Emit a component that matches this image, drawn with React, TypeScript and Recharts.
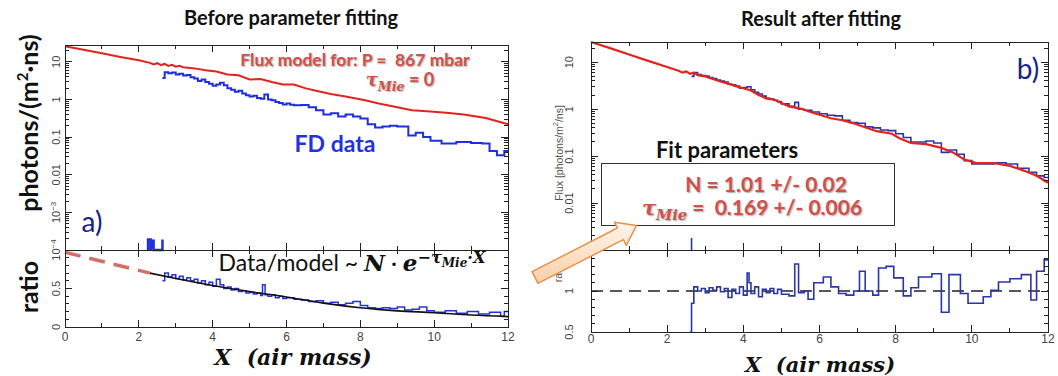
import React from 'react';
import { ComposedChart, Line, XAxis, YAxis, ReferenceLine } from 'recharts';

// ---- panel a) before fitting ----
const modelBeforeX = [0, 0.5, 1, 1.5, 2, 2.3, 2.4, 2.5, 2.6, 2.7, 2.8, 2.9, 3.0, 3.1, 3.2, 3.4, 3.6, 3.8, 4.1, 4.4, 4.7, 5.0, 5.3, 5.6, 5.9, 6.2, 6.5, 6.8, 7.2, 7.6, 8.1, 8.5, 9.0, 9.4, 9.9, 10.4, 10.8, 11.4, 12];
const modelBeforeFlux = [26, 21, 17, 13.5, 11, 9.4, 8.5, 9.2, 8.2, 8.8, 7.8, 8.3, 7.4, 7.8, 7.2, 6.9, 6.5, 6.0, 5.5, 4.6, 4.4, 3.4, 3.5, 2.9, 2.5, 2.5, 2.0, 1.7, 1.4, 1.2, 0.97, 0.78, 0.62, 0.52, 0.48, 0.44, 0.40, 0.32, 0.22];

const fdBeforeX = [2.64, 2.7, 2.8, 2.9, 3.0, 3.1, 3.2, 3.3, 3.4, 3.5, 3.6, 3.7, 3.8, 3.9, 4.0, 4.1, 4.2, 4.3, 4.4, 4.5, 4.6, 4.7, 4.8, 4.9, 5.0, 5.1, 5.2, 5.3, 5.4, 5.5, 5.6, 5.7, 5.8, 5.9, 6.0, 6.1, 6.2, 6.4, 6.6, 6.8, 7.0, 7.2, 7.4, 7.6, 7.8, 8.0, 8.2, 8.4, 8.6, 8.8, 9.0, 9.3, 9.5, 9.7, 9.9, 10.2, 10.6, 11.0, 11.3, 11.5, 11.7, 11.9, 12];
const fdBeforeFlux = [3.7, 5.3, 5.0, 5.2, 4.6, 4.8, 4.3, 4.5, 3.9, 3.6, 3.1, 3.4, 2.9, 2.6, 2.3, 2.5, 2.8, 2.4, 2.0, 1.8, 1.6, 1.7, 1.45, 1.3, 1.2, 1.25, 1.1, 1.05, 1.35, 1.0, 0.95, 0.85, 0.8, 0.74, 0.78, 0.72, 0.70, 0.71, 0.62, 0.52, 0.40, 0.43, 0.35, 0.40, 0.35, 0.31, 0.22, 0.18, 0.19, 0.20, 0.19, 0.11, 0.13, 0.10, 0.08, 0.068, 0.074, 0.070, 0.068, 0.043, 0.033, 0.043, 0.043];
// near-empty early bins sitting on the bottom edge
const fdLowBeforeX = [2.25, 2.25, 2.32, 2.32, 2.4, 2.4, 2.64, 2.64];
const fdLowBeforeFlux = [1e-4, 1.9e-4, 1.9e-4, 1e-4, 1.9e-4, 1e-4, 1e-4, 1.9e-4];

const ratioBeforeX = [2.64, 2.7, 2.8, 2.9, 3.0, 3.1, 3.2, 3.3, 3.4, 3.5, 3.6, 3.7, 3.8, 3.9, 4.0, 4.1, 4.2, 4.3, 4.4, 4.5, 4.6, 4.7, 4.8, 4.9, 5.0, 5.1, 5.2, 5.3, 5.35, 5.42, 5.5, 5.6, 5.7, 5.8, 5.9, 6.0, 6.2, 6.4, 6.6, 6.8, 7.0, 7.2, 7.4, 7.6, 7.8, 8.0, 8.2, 8.4, 8.6, 8.8, 9.0, 9.2, 9.4, 9.6, 9.8, 10.0, 10.3, 10.6, 10.9, 11.2, 11.5, 11.8, 11.9, 12];
const ratioBeforeVal = [0.60, 0.70, 0.65, 0.68, 0.63, 0.66, 0.61, 0.64, 0.60, 0.62, 0.57, 0.60, 0.55, 0.58, 0.53, 0.62, 0.55, 0.50, 0.52, 0.48, 0.50, 0.46, 0.47, 0.44, 0.45, 0.43, 0.44, 0.41, 0.55, 0.42, 0.40, 0.42, 0.38, 0.40, 0.37, 0.38, 0.36, 0.35, 0.33, 0.34, 0.31, 0.32, 0.29, 0.31, 0.33, 0.28, 0.25, 0.24, 0.25, 0.24, 0.26, 0.22, 0.23, 0.26, 0.21, 0.19, 0.21, 0.18, 0.20, 0.17, 0.19, 0.14, 0.20, 0.20];

const ratioFitX = [2.3, 3, 4, 5, 6, 7, 8, 9, 10, 11, 12];
const ratioFitVal = [0.70, 0.63, 0.54, 0.46, 0.39, 0.31, 0.25, 0.21, 0.186, 0.155, 0.135];
const ratioExtrapX = [0, 2.3];
const ratioExtrapVal = [0.97, 0.70];

// ---- panel b) after fitting ----
const fitAfterX = [0, 0.5, 1, 1.5, 2, 2.3, 2.4, 2.5, 2.6, 2.7, 2.8, 3.0, 3.2, 3.4, 3.6, 3.8, 4.0, 4.2, 4.4, 4.6, 4.8, 5.0, 5.2, 5.5, 5.8, 6.0, 6.3, 6.6, 6.9, 7.1, 7.5, 7.9, 8.1, 8.4, 8.8, 9.2, 9.5, 9.8, 10.1, 10.6, 11.0, 11.4, 11.7, 12];
const fitAfterFlux = [27, 20, 14.6, 10.7, 7.9, 6.6, 6.0, 6.4, 5.7, 6.0, 5.3, 5.0, 4.4, 3.9, 3.5, 3.1, 2.8, 2.5, 2.0, 1.7, 1.6, 1.35, 1.15, 1.03, 0.85, 0.76, 0.64, 0.58, 0.50, 0.44, 0.34, 0.30, 0.24, 0.19, 0.18, 0.15, 0.12, 0.085, 0.072, 0.071, 0.062, 0.048, 0.038, 0.027];

const fdAfterX = [2.64, 2.7, 2.8, 2.9, 3.0, 3.1, 3.2, 3.3, 3.4, 3.5, 3.6, 3.7, 3.8, 3.9, 4.0, 4.1, 4.2, 4.3, 4.4, 4.5, 4.6, 4.7, 4.8, 4.9, 5.0, 5.2, 5.35, 5.45, 5.6, 5.8, 6.0, 6.2, 6.4, 6.6, 6.8, 7.0, 7.2, 7.4, 7.6, 7.8, 8.0, 8.2, 8.4, 8.6, 8.8, 9.0, 9.2, 9.4, 9.6, 9.8, 10.0, 10.3, 10.6, 10.9, 11.2, 11.5, 11.7, 11.9, 12];
const fdAfterFlux = [5.0, 6.0, 5.5, 5.2, 5.1, 4.7, 4.5, 4.2, 4.0, 3.8, 3.4, 3.3, 3.1, 2.8, 2.9, 3.0, 2.6, 2.3, 2.1, 1.9, 1.7, 1.65, 1.55, 1.45, 1.3, 1.15, 1.4, 1.0, 0.95, 0.87, 0.8, 0.74, 0.72, 0.58, 0.52, 0.50, 0.42, 0.40, 0.36, 0.35, 0.30, 0.25, 0.20, 0.20, 0.21, 0.19, 0.12, 0.135, 0.11, 0.08, 0.068, 0.068, 0.072, 0.068, 0.055, 0.045, 0.038, 0.035, 0.035];
const fdLowAfterX = [2.64, 2.64];
const fdLowAfterFlux = [1e-3, 1.8e-3];

const ratioAfterX = [2.6, 2.64, 2.7, 2.8, 2.9, 3.0, 3.1, 3.2, 3.3, 3.4, 3.5, 3.6, 3.7, 3.8, 3.9, 4.0, 4.1, 4.15, 4.2, 4.3, 4.4, 4.5, 4.6, 4.7, 4.8, 4.9, 5.0, 5.2, 5.35, 5.45, 5.6, 5.7, 5.85, 6.1, 6.3, 6.5, 6.7, 6.9, 7.05, 7.2, 7.4, 7.55, 7.75, 7.95, 8.2, 8.4, 8.6, 8.95, 9.2, 9.4, 9.7, 9.9, 10.3, 10.5, 10.7, 11.0, 11.3, 11.55, 11.7, 11.9, 12];
const ratioAfterVal = [0.5, 0.85, 1.05, 1.0, 1.03, 0.98, 1.04, 1.01, 1.05, 0.99, 1.03, 0.92, 1.02, 0.97, 1.05, 0.95, 1.22, 1.1, 0.97, 1.05, 0.93, 1.02, 0.98, 1.03, 0.97, 1.02, 0.96, 0.94, 1.33, 0.98, 1.0, 0.9, 1.1, 1.17, 1.05, 0.97, 0.95, 1.0, 1.24, 1.0, 0.95, 1.28, 1.3, 1.16, 0.94, 1.04, 1.17, 1.21, 0.74, 1.2, 0.97, 0.85, 0.93, 1.01, 1.11, 1.15, 1.2, 0.89, 1.24, 1.38, 1.38];
const ratioUnity = 1;

// ---- axes ----
const xDomain: [number, number] = [0, 12];
const xLabelTicks = [0, 2, 4, 6, 8, 10, 12];
const xMinorTicks = [1, 3, 5, 7, 9, 11];
const fluxDomainBefore: [number, number] = [1e-4, 28];
const fluxDomainAfter: [number, number] = [1e-3, 27];
const decadesBefore = [1e-4, 1e-3, 0.01, 0.1, 1, 10];
const decadesAfter = [1e-3, 0.01, 0.1, 1, 10];
const ratioDomainBefore: [number, number] = [0, 1];
const ratioDomainAfter: [number, number] = [0.5, 1.5];
const ratioMajorBefore = [0, 0.5, 1];
const ratioMinorBefore = [0.1, 0.2, 0.3, 0.4, 0.6, 0.7, 0.8, 0.9];
const ratioMajorAfter = [0.5, 1, 1.5];
const ratioMinorAfter = [0.6, 0.7, 0.8, 0.9, 1.1, 1.2, 1.3, 1.4];

const minorOf = (decades: number[], max: number) =>
  decades.flatMap((d) => [2, 3, 4, 5, 6, 7, 8, 9].map((m) => m * d)).filter((v) => v <= max);

const pts = (xs: number[], ys: number[]) => xs.map((x, i) => ({ x, y: ys[i] }));

const SANS = 'Lato, "Open Sans", sans-serif';
const AXIS_FONT = '"Liberation Sans", Arial, sans-serif';
const MATH = '"DejaVu Serif", serif';
const RED_TXT = '#d0504c';
const SHADOW = '1px 1px 1.5px rgba(0,0,0,0.35)';

// plot rectangles of the four charts on the page (they follow from the chart margins below)
const paneA = { L: 65, R: 508, T: 45, B: 250 };
const paneAR = { L: 65, R: 508, T: 250, B: 327 };
const paneB = { L: 591, R: 1048, T: 42, B: 250 };
const paneBR = { L: 591, R: 1048, T: 250, B: 332 };

function VTick(props: any) {
  const { x, y, payload, show } = props;
  const v = payload.value;
  if (!show(v)) return <g />;
  const common = {
    x,
    y,
    transform: `rotate(-90 ${x} ${y})`,
    textAnchor: 'middle' as const,
    fontSize: 11,
    fill: '#444',
    fontFamily: AXIS_FONT,
  };
  if (v > 0 && v < 0.005) {
    const e = Math.round(Math.log10(v));
    return (
      <text {...common}>
        <tspan>10</tspan>
        <tspan dy={-4} fontSize={8}>{`\u2212${-e}`}</tspan>
      </text>
    );
  }
  return <text {...common}>{String(v)}</text>;
}

// box with inward ticks on all four sides, placed with the same scales as the chart axes
function PaneFrame({ box, log, domain, yMajor, yMinor }: any) {
  const { L, R, T, B } = box;
  const [lo, hi] = domain;
  const sx = (v: number) => L + ((v - xDomain[0]) / (xDomain[1] - xDomain[0])) * (R - L);
  const sy = (v: number) =>
    log
      ? B - ((Math.log10(v) - Math.log10(lo)) / (Math.log10(hi) - Math.log10(lo))) * (B - T)
      : B - ((v - lo) / (hi - lo)) * (B - T);
  const inY = (v: number) => v > lo && v < hi;
  const bar = (k: string, left: number, top: number, w: number, h: number) => (
    <div key={k} style={{ position: 'absolute', left, top, width: w, height: h, background: '#222' }} />
  );
  const items: React.ReactNode[] = [
    <div key="box" style={{ position: 'absolute', left: L - 0.5, top: T - 0.5, width: R - L + 1, height: B - T + 1, border: '1.2px solid #222', boxSizing: 'border-box' }} />,
  ];
  const xt = (v: number, len: number, k: string) => {
    items.push(bar(`${k}b`, sx(v) - 0.5, B - len, 1, len));
    items.push(bar(`${k}t`, sx(v) - 0.5, T, 1, len));
  };
  const yt = (v: number, len: number, k: string) => {
    items.push(bar(`${k}l`, L, sy(v) - 0.5, len, 1));
    items.push(bar(`${k}r`, R - len, sy(v) - 0.5, len, 1));
  };
  xLabelTicks.filter((v) => v > xDomain[0] && v < xDomain[1]).forEach((v) => xt(v, 7, `xM${v}`));
  xMinorTicks.forEach((v) => xt(v, 4, `xm${v}`));
  yMajor.filter(inY).forEach((v: number) => yt(v, 7, `yM${v}`));
  yMinor.filter(inY).forEach((v: number) => yt(v, 4, `ym${v}`));
  return <>{items}</>;
}

function Txt({ x, y, rot, style, children }: any) {
  return (
    <div
      style={{
        position: 'absolute',
        left: x,
        top: y,
        transform: `translate(-50%, -50%)${rot ? ' rotate(-90deg)' : ''}`,
        whiteSpace: 'nowrap',
        lineHeight: 1,
        ...style,
      }}
    >
      {children}
    </div>
  );
}

const Tau = () => (
  <span style={{ fontFamily: MATH, fontStyle: 'italic', fontWeight: 700 }}>
    τ<sub style={{ fontSize: '0.7em' }}>Mie</sub>
  </span>
);

export default function App() {
  const logMinorBefore = minorOf(decadesBefore, fluxDomainBefore[1]);
  const logMinorAfter = minorOf(decadesAfter, fluxDomainAfter[1]);

  return (
    <div style={{ position: 'fixed', left: 0, top: 0, width: 1058, height: 376, background: '#fff', overflow: 'hidden' }}>
      {/* a) flux pane */}
      <div style={{ position: 'absolute', left: 0, top: 0 }}>
        <ComposedChart width={530} height={260} margin={{ top: 45, right: 22, bottom: 10, left: 25 }}>
          <XAxis xAxisId="b" type="number" dataKey="x" domain={xDomain} hide />
          <YAxis yAxisId="l" scale="log" domain={fluxDomainBefore} ticks={decadesBefore} width={40} tickSize={0} tickMargin={5} interval={0}
            axisLine={false} tickLine={false}
            tick={(p: any) => <VTick {...p} show={() => true} />} />
          <Line xAxisId="b" yAxisId="l" data={pts(modelBeforeX, modelBeforeFlux)} dataKey="y" type="linear" stroke="#e3231e" strokeWidth={2} dot={false} isAnimationActive={false} />
          <Line xAxisId="b" yAxisId="l" data={pts(fdBeforeX, fdBeforeFlux)} dataKey="y" type="stepAfter" stroke="#1f2ee0" strokeWidth={2} dot={false} isAnimationActive={false} />
          <Line xAxisId="b" yAxisId="l" data={pts(fdLowBeforeX, fdLowBeforeFlux)} dataKey="y" type="linear" stroke="#1f2ee0" strokeWidth={2.5} dot={false} isAnimationActive={false} />
        </ComposedChart>
      </div>

      {/* a) ratio pane */}
      <div style={{ position: 'absolute', left: 0, top: 240 }}>
        <ComposedChart width={530} height={130} margin={{ top: 10, right: 22, bottom: 18, left: 25 }}>
          <XAxis xAxisId="b" type="number" dataKey="x" domain={xDomain} ticks={xLabelTicks} height={25} tickSize={0} tickMargin={5} interval={0}
            axisLine={false} tickLine={false}
            tick={{ fill: '#444', fontSize: 12, fontFamily: AXIS_FONT }} />
          <YAxis yAxisId="l" type="number" domain={ratioDomainBefore} ticks={ratioMajorBefore} width={40} tickSize={0} tickMargin={5} interval={0}
            axisLine={false} tickLine={false}
            tick={(p: any) => <VTick {...p} show={(v: number) => v < 0.9} />} />
          <Line xAxisId="b" yAxisId="l" data={pts(ratioExtrapX, ratioExtrapVal)} dataKey="y" type="linear" stroke="#c9574f" strokeOpacity={0.85} strokeWidth={3.5} strokeDasharray="16 9" dot={false} isAnimationActive={false} />
          <Line xAxisId="b" yAxisId="l" data={pts(ratioBeforeX, ratioBeforeVal)} dataKey="y" type="stepAfter" stroke="#2233dd" strokeWidth={1.5} dot={false} isAnimationActive={false} />
          <Line xAxisId="b" yAxisId="l" data={pts(ratioFitX, ratioFitVal)} dataKey="y" type="monotone" stroke="#111" strokeWidth={1.6} dot={false} isAnimationActive={false} />
        </ComposedChart>
      </div>

      {/* b) flux pane */}
      <div style={{ position: 'absolute', left: 530, top: 0 }}>
        <ComposedChart width={528} height={260} margin={{ top: 42, right: 10, bottom: 10, left: 21 }}>
          <XAxis xAxisId="b" type="number" dataKey="x" domain={xDomain} hide />
          <YAxis yAxisId="l" scale="log" domain={fluxDomainAfter} ticks={decadesAfter} width={40} tickSize={0} tickMargin={18} interval={0}
            axisLine={false} tickLine={false}
            tick={(p: any) => <VTick {...p} show={(v: number) => v > 0.005} />} />
          <Line xAxisId="b" yAxisId="l" data={pts(fdAfterX, fdAfterFlux)} dataKey="y" type="stepAfter" stroke="#2a35a8" strokeWidth={1.6} dot={false} isAnimationActive={false} />
          <Line xAxisId="b" yAxisId="l" data={pts(fdLowAfterX, fdLowAfterFlux)} dataKey="y" type="linear" stroke="#2a35a8" strokeWidth={1.6} dot={false} isAnimationActive={false} />
          <Line xAxisId="b" yAxisId="l" data={pts(fitAfterX, fitAfterFlux)} dataKey="y" type="linear" stroke="#e3231e" strokeWidth={2.2} dot={false} isAnimationActive={false} />
        </ComposedChart>
      </div>

      {/* b) ratio pane */}
      <div style={{ position: 'absolute', left: 530, top: 240 }}>
        <ComposedChart width={528} height={136} margin={{ top: 10, right: 10, bottom: 19, left: 21 }}>
          <XAxis xAxisId="b" type="number" dataKey="x" domain={xDomain} ticks={xLabelTicks} height={25} tickSize={0} tickMargin={2} interval={0}
            axisLine={false} tickLine={false}
            tick={{ fill: '#444', fontSize: 12, fontFamily: AXIS_FONT }} />
          <YAxis yAxisId="l" type="number" domain={ratioDomainAfter} ticks={ratioMajorAfter} width={40} tickSize={0} tickMargin={18} interval={0}
            axisLine={false} tickLine={false}
            tick={(p: any) => <VTick {...p} show={(v: number) => v < 1.4} />} />
          <ReferenceLine xAxisId="b" yAxisId="l" y={ratioUnity} stroke="#222" strokeWidth={1.3} strokeDasharray="12 7" />
          <Line xAxisId="b" yAxisId="l" data={pts(ratioAfterX, ratioAfterVal)} dataKey="y" type="stepAfter" stroke="#2a35a8" strokeWidth={1.6} dot={false} isAnimationActive={false} />
        </ComposedChart>
      </div>

      {/* plot frames with inward ticks */}
      <PaneFrame box={paneA} log domain={fluxDomainBefore} yMajor={decadesBefore} yMinor={logMinorBefore} />
      <PaneFrame box={paneAR} log={false} domain={ratioDomainBefore} yMajor={ratioMajorBefore} yMinor={ratioMinorBefore} />
      <PaneFrame box={paneB} log domain={fluxDomainAfter} yMajor={decadesAfter} yMinor={logMinorAfter} />
      <PaneFrame box={paneBR} log={false} domain={ratioDomainAfter} yMajor={ratioMajorAfter} yMinor={ratioMinorAfter} />

      {/* titles and labels */}
      <Txt x={291} y={17} style={{ fontFamily: SANS, fontWeight: 700, fontSize: 20, color: '#111' }}>Before parameter fitting</Txt>
      <Txt x={821} y={18} style={{ fontFamily: SANS, fontWeight: 700, fontSize: 20, color: '#111' }}>Result after fitting</Txt>

      <Txt x={28} y={123} rot style={{ fontFamily: SANS, fontWeight: 700, fontSize: 25, color: '#111' }}>
        photons/(m<sup style={{ fontSize: '0.6em' }}>2</sup>·ns)
      </Txt>
      <Txt x={28} y={287} rot style={{ fontFamily: SANS, fontWeight: 700, fontSize: 25, color: '#111' }}>ratio</Txt>
      <Txt x={558} y={153} rot style={{ fontFamily: AXIS_FONT, fontSize: 10.5, color: '#555' }}>
        Flux [photons/m<sup style={{ fontSize: '0.7em' }}>2</sup>/ns]
      </Txt>
      <Txt x={558} y={272} rot style={{ fontFamily: AXIS_FONT, fontSize: 10.5, color: '#555' }}>ratio</Txt>

      <Txt x={355} y={60} style={{ fontFamily: SANS, fontWeight: 700, fontSize: 17.5, color: RED_TXT, textShadow: SHADOW }}>
        Flux model for: P = &nbsp;867 mbar
      </Txt>
      <Txt x={400} y={82} style={{ fontFamily: SANS, fontWeight: 700, fontSize: 18, color: RED_TXT, textShadow: SHADOW }}>
        <Tau /> = 0
      </Txt>
      <Txt x={335} y={143} style={{ fontFamily: SANS, fontWeight: 700, fontSize: 23, color: '#2233dd' }}>FD data</Txt>
      <Txt x={92} y={221} style={{ fontFamily: SANS, fontSize: 28, color: '#17218a' }}>a)</Txt>
      <Txt x={1028} y={68} style={{ fontFamily: SANS, fontSize: 28, color: '#17218a' }}>b)</Txt>

      <Txt x={352} y={262} style={{ fontFamily: SANS, fontSize: 23, color: '#111' }}>
        Data/model ~{' '}
        <span style={{ fontFamily: MATH, fontStyle: 'italic', fontWeight: 700 }}>N</span>
        {' · '}
        <span style={{ fontFamily: MATH, fontStyle: 'italic', fontWeight: 700 }}>e</span>
        <sup style={{ fontFamily: MATH, fontStyle: 'italic', fontWeight: 700, fontSize: '0.7em' }}>
          −τ<sub style={{ fontSize: '0.75em' }}>Mie</sub>·X
        </sup>
      </Txt>

      <Txt x={293} y={357} style={{ fontFamily: MATH, fontStyle: 'italic', fontWeight: 700, fontSize: 22, color: '#111' }}>
        X&nbsp;&nbsp;(air mass)
      </Txt>
      <Txt x={820} y={364} style={{ fontFamily: MATH, fontStyle: 'italic', fontWeight: 700, fontSize: 21, color: '#111' }}>
        X&nbsp;&nbsp;(air mass)
      </Txt>

      {/* fit parameters box */}
      <Txt x={727} y={150} style={{ fontFamily: SANS, fontWeight: 700, fontSize: 22, color: '#111' }}>Fit parameters</Txt>
      <div style={{ position: 'absolute', left: 601, top: 163, width: 294, height: 63, border: '1.5px solid #333', boxSizing: 'border-box' }} />
      <Txt x={766} y={183} style={{ fontFamily: SANS, fontWeight: 700, fontSize: 21, color: RED_TXT, textShadow: SHADOW }}>
        N = 1.01 +/- 0.02
      </Txt>
      <Txt x={752} y={209} style={{ fontFamily: SANS, fontWeight: 700, fontSize: 21, color: RED_TXT, textShadow: SHADOW }}>
        <Tau /> = &nbsp;0.169 +/- 0.006
      </Txt>

      {/* arrow pointing at the fit box */}
      <svg width={1058} height={376} style={{ position: 'absolute', left: 0, top: 0, pointerEvents: 'none' }}>
        <defs>
          <linearGradient id="arrowFill" x1="0" y1="0" x2="0" y2="1">
            <stop offset="0" stopColor="#fff6ec" />
            <stop offset="1" stopColor="#f8cfa6" />
          </linearGradient>
        </defs>
        <polygon
          points="532,271.7 617.4,228 614.5,222.2 636.5,225.6 626.3,245.4 623.4,239.6 538,283.3"
          fill="url(#arrowFill)"
          stroke="#e8914a"
          strokeWidth={1.5}
          strokeLinejoin="round"
        />
      </svg>
    </div>
  );
}
